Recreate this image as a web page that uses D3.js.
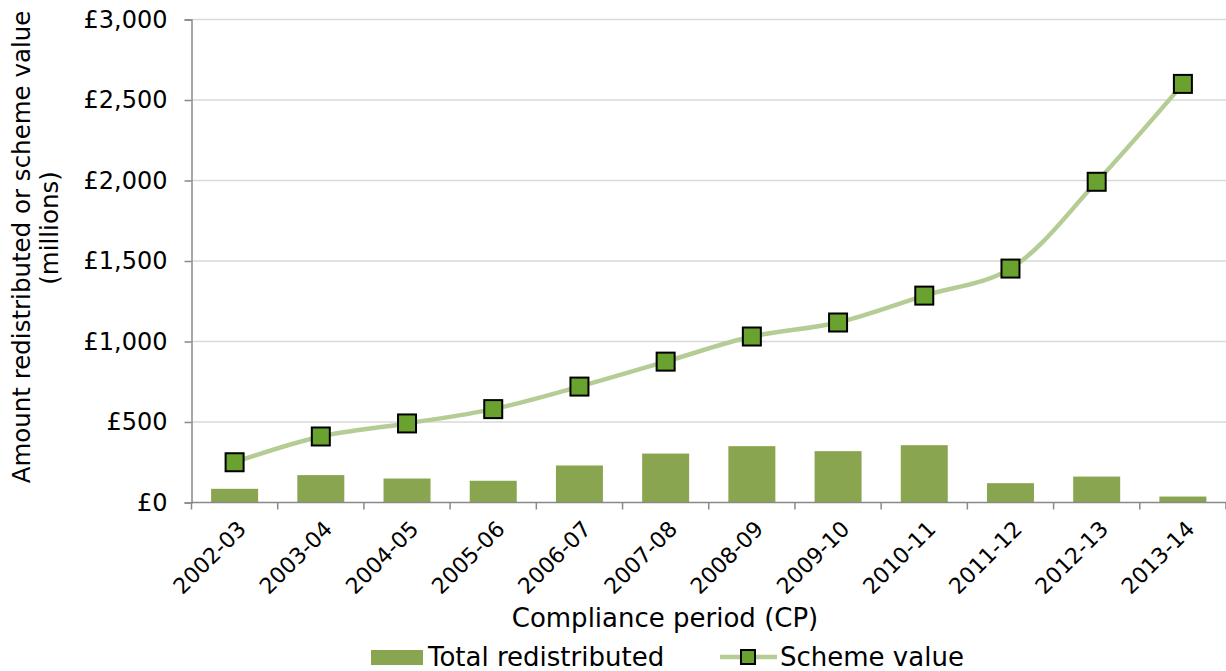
<!DOCTYPE html>
<html>
<head>
<meta charset="utf-8">
<script src="https://cdn.jsdelivr.net/npm/d3@7"></script>
<style>
  body { margin: 0; background: #fff; }
  text { font-family: Verdana, "DejaVu Sans", sans-serif; fill: #000; }
</style>
</head>
<body>
<div id="chart"></div>
<script>
var periods = ["2002-03", "2003-04", "2004-05", "2005-06", "2006-07", "2007-08",
               "2008-09", "2009-10", "2010-11", "2011-12", "2012-13", "2013-14"];
var redistributed = [85, 170, 149, 135, 230, 304, 350, 319, 356, 120, 161, 37];
var schemeValue = [250, 410, 491, 580, 720, 875, 1031, 1118, 1285, 1453, 1992, 2600];
var yTicks = [0, 500, 1000, 1500, 2000, 2500, 3000];

var width = 1226, height = 671;
var plotL = 191.5, plotR = 1226, plotT = 19.5, plotB = 502.5;

var svg = d3.select("#chart").append("svg")
    .attr("width", width)
    .attr("height", height);

var x = d3.scaleBand()
    .domain(periods)
    .range([plotL, plotR]);

var y = d3.scaleLinear()
    .domain([0, 3000])
    .range([plotB, plotT]);

var fmt = d3.format(",");

// gridlines
svg.append("g")
  .selectAll("line")
  .data(yTicks.filter(function(d) { return d > 0; }))
  .enter().append("line")
    .attr("x1", plotL).attr("x2", plotR)
    .attr("y1", function(d) { return y(d); })
    .attr("y2", function(d) { return y(d); })
    .attr("stroke", "#d9d9d9")
    .attr("stroke-width", 1.5);

// bars
var barW = x.bandwidth() * 0.545;
svg.append("g")
  .selectAll("rect")
  .data(periods)
  .enter().append("rect")
    .attr("x", function(d) { return x(d) + (x.bandwidth() - barW) / 2; })
    .attr("y", function(d, i) { return y(redistributed[i]); })
    .attr("width", barW)
    .attr("height", function(d, i) { return plotB - y(redistributed[i]); })
    .attr("fill", "#8aa54f");

// y axis
var yAxis = d3.axisLeft(y)
    .tickValues(yTicks)
    .tickSize(7)
    .tickPadding(17)
    .tickFormat(function(d) { return "£" + fmt(d); });

var gy = svg.append("g")
    .attr("transform", "translate(" + plotL + ",0)")
    .call(yAxis);
gy.select(".domain").attr("stroke", "#898989").attr("stroke-width", 1.5);
gy.selectAll(".tick line").attr("stroke", "#898989").attr("stroke-width", 1.5);
gy.selectAll(".tick text").style("font-size", "24px").attr("fill", "#000");

// x axis: ticks at category boundaries
var gx = svg.append("g");
gx.append("line")
    .attr("x1", plotL).attr("x2", plotR)
    .attr("y1", plotB).attr("y2", plotB)
    .attr("stroke", "#898989").attr("stroke-width", 1.5);
gx.selectAll(".xt")
  .data(periods.concat(["end"]))
  .enter().append("line")
    .attr("class", "xt")
    .attr("x1", function(d, i) { return plotL + i * x.bandwidth(); })
    .attr("x2", function(d, i) { return plotL + i * x.bandwidth(); })
    .attr("y1", plotB).attr("y2", plotB + 7)
    .attr("stroke", "#898989").attr("stroke-width", 1.5);
gx.selectAll(".xl")
  .data(periods)
  .enter().append("text")
    .attr("class", "xl")
    .attr("transform", function(d) {
      return "translate(" + (x(d) + x.bandwidth() / 2 + 2) + "," + (plotB + 17) + ") rotate(-45)";
    })
    .attr("text-anchor", "end")
    .attr("dy", "0.7em")
    .style("font-size", "22px")
    .text(function(d) { return d; });

// scheme value line
var line = d3.line()
    .x(function(d, i) { return x(periods[i]) + x.bandwidth() / 2; })
    .y(function(d) { return y(d); })
    .curve(d3.curveCatmullRom.alpha(0.5));

svg.append("path")
    .datum(schemeValue)
    .attr("d", line)
    .attr("fill", "none")
    .attr("stroke", "#b5cd95")
    .attr("stroke-width", 4.5);

var mk = 18;
svg.append("g")
  .selectAll("rect")
  .data(schemeValue)
  .enter().append("rect")
    .attr("x", function(d, i) { return x(periods[i]) + x.bandwidth() / 2 - mk / 2; })
    .attr("y", function(d) { return y(d) - mk / 2; })
    .attr("width", mk).attr("height", mk)
    .attr("fill", "#6aa22f")
    .attr("stroke", "#000")
    .attr("stroke-width", 2);

// axis titles
svg.append("text")
    .attr("transform", "translate(30,247) rotate(-90)")
    .attr("text-anchor", "middle")
    .style("font-size", "24.5px")
    .text("Amount redistributed or scheme value");
svg.append("text")
    .attr("transform", "translate(58,228) rotate(-90)")
    .attr("text-anchor", "middle")
    .style("font-size", "24.5px")
    .text("(millions)");

svg.append("text")
    .attr("x", 665).attr("y", 627)
    .attr("text-anchor", "middle")
    .style("font-size", "26px")
    .text("Compliance period (CP)");

// legend
var lg = svg.append("g");
lg.append("rect")
    .attr("x", 371).attr("y", 650).attr("width", 52).attr("height", 15)
    .attr("fill", "#8aa54f");
lg.append("text")
    .attr("x", 428).attr("y", 666)
    .style("font-size", "26px")
    .text("Total redistributed");
lg.append("line")
    .attr("x1", 720).attr("x2", 777).attr("y1", 657).attr("y2", 657)
    .attr("stroke", "#b5cd95").attr("stroke-width", 4.5);
lg.append("rect")
    .attr("x", 741).attr("y", 650).attr("width", 14).attr("height", 14)
    .attr("fill", "#6aa22f").attr("stroke", "#000").attr("stroke-width", 2);
lg.append("text")
    .attr("x", 780).attr("y", 666)
    .style("font-size", "26px")
    .text("Scheme value");
</script>
</body>
</html>
